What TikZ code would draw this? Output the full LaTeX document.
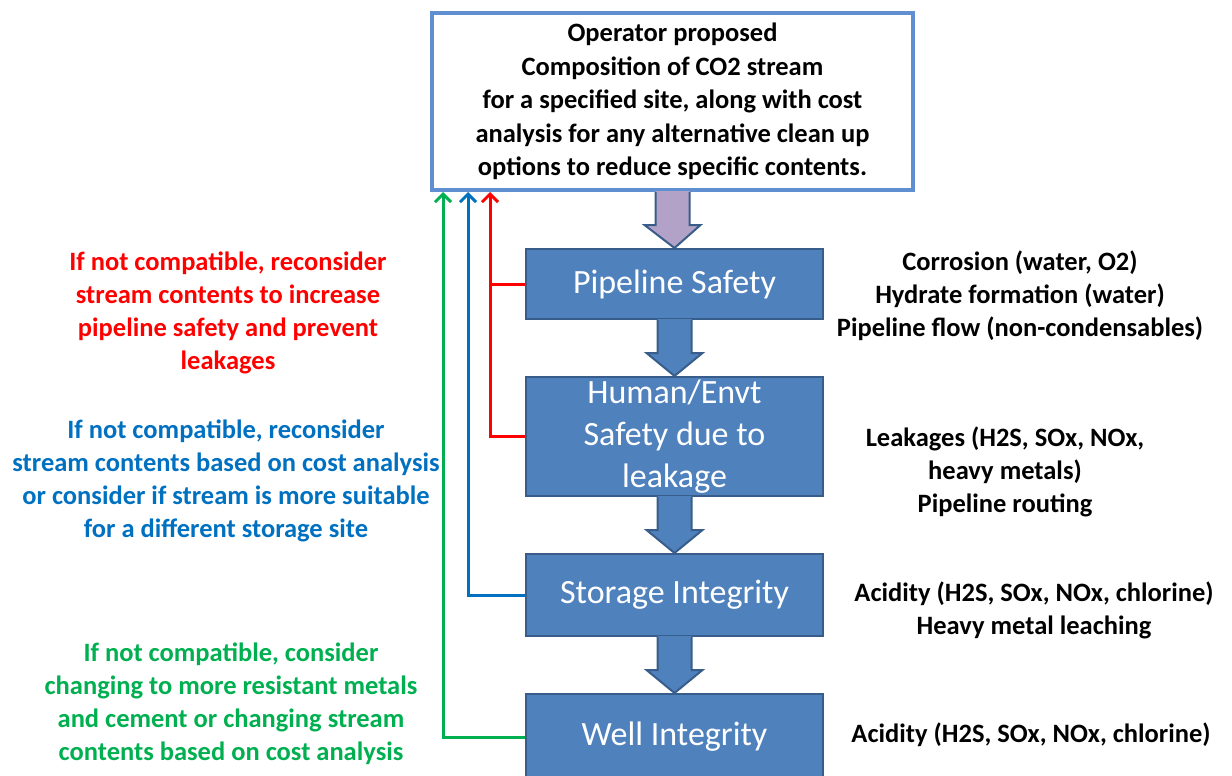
\documentclass[tikz,border=0pt]{standalone}
\usepackage{fontspec}
\setmainfont{Carlito}
\usetikzlibrary{arrows.meta,calc}
\definecolor{boxfill}{HTML}{4F81BD}
\definecolor{boxline}{HTML}{385D8A}
\definecolor{topline}{HTML}{5F8FD0}
\definecolor{purplefill}{HTML}{B3A2C7}
\definecolor{fbred}{HTML}{FF0000}
\definecolor{fbblue}{HTML}{0070C0}
\definecolor{fbgreen}{HTML}{00B050}
\newcommand\blockarrowdraw[3]{%
  \fill[#3] ($(#1.south)+(-17,-1)$) -- ($(#1.south)+(17,-1)$) -- ($(#1.south)+(17,33)$) -- ($(#1.south)+(28,33)$) -- (#2.north) -- ($(#1.south)+(-28,33)$) -- ($(#1.south)+(-17,33)$) -- cycle;
  \draw[boxline,line width=2pt,line join=miter] ($(#1.south)+(17,0)$) -- ($(#1.south)+(17,33)$) -- ($(#1.south)+(28,33)$) -- (#2.north) -- ($(#1.south)+(-28,33)$) -- ($(#1.south)+(-17,33)$) -- ($(#1.south)+(-17,0)$);}
\begin{document}
\begin{tikzpicture}[x=1pt,y=-1pt,
 topbox/.style={draw=topline,line width=4pt,fill=white,minimum width=481pt,minimum height=177pt,align=center,font=\fontsize{26.5}{33.5}\selectfont\bfseries,inner sep=0pt},
 stagebox/.style={draw=boxline,line width=2pt,fill=boxfill,text=white,minimum width=297pt,align=center,font=\fontsize{34}{42}\selectfont,inner sep=0pt},
 note/.style={align=center,font=\fontsize{26.5}{33}\selectfont\bfseries,inner sep=0pt},
 fb/.style={line width=3pt},
 fbarrow/.style={fb,-{Straight Barb[length=8pt,width=16pt,line width=3pt]}},
]
\useasboundingbox (0,0) rectangle (1232,776);
\clip (0,0) rectangle (1232,776);
\node[topbox] (top) at (672.5,101.5) {Operator proposed\\Composition of CO2 stream\\for a specified site, along with cost\\analysis for any alternative clean up\\options to reduce specific contents.};
\node[stagebox,minimum height=70pt] (pipe) at (674.5,284) {Pipeline Safety};
\node[stagebox,minimum height=119pt] (human) at (674.5,436.5) {Human/Envt\\Safety due to\\leakage};
\node[stagebox,minimum height=82pt] (storage) at (674.5,595) {Storage Integrity};
\node[stagebox,minimum height=86pt] (well) at (674.5,737) {Well Integrity};
\blockarrowdraw{top}{pipe}{purplefill}
\blockarrowdraw{pipe}{human}{boxfill}
\blockarrowdraw{human}{storage}{boxfill}
\blockarrowdraw{storage}{well}{boxfill}
\coordinate (redtop) at (490,192);
\coordinate (bluetop) at (468,192);
\coordinate (greentop) at (443,192);
\draw[fbarrow,fbred] (human.west) -| (redtop);
\draw[fb,fbred] (pipe.west) -- (pipe.west -| redtop);
\draw[fbarrow,fbblue] (storage.west) -| (bluetop);
\draw[fbarrow,fbgreen] (well.west) -| (greentop);
\node[note,text=fbred] (rednote) at (228,313) {If not compatible, reconsider\\stream contents to increase\\pipeline safety and prevent\\leakages};
\node[note,text=fbblue] (bluenote) at (226,481) {If not compatible, reconsider\\stream contents based on cost analysis\\or consider if stream is more suitable\\for a different storage site};
\node[note,text=fbgreen] (greennote) at (231,704) {If not compatible, consider\\changing to more resistant metals\\and cement or changing stream\\contents based on cost analysis};
\node[note] (r1) at (1020,296) {Corrosion (water, O2)\\Hydrate formation (water)\\Pipeline flow (non-condensables)};
\node[note] (r2) at (1005,472) {Leakages (H2S, SOx, NOx,\\heavy metals)\\Pipeline routing};
\node[note] (r3) at (1034,610) {Acidity (H2S, SOx, NOx, chlorine)\\Heavy metal leaching};
\node[note] (r4) at (1031,735) {Acidity (H2S, SOx, NOx, chlorine)};
\end{tikzpicture}
\end{document}
